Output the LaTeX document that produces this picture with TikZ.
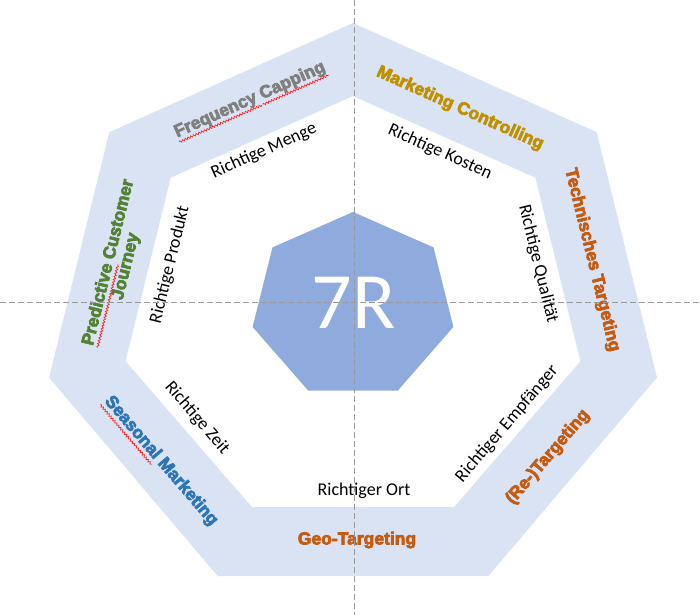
\documentclass[tikz,border=0pt]{standalone}
\usepackage{fontspec}
\usetikzlibrary{decorations.pathmorphing}
\setmainfont{Carlito}
\newfontfamily\heavy[FakeBold=4]{Liberation Sans}
\definecolor{bandblue}{HTML}{DAE3F3}
\definecolor{coreblue}{HTML}{8FAADC}
\definecolor{fcgray}{HTML}{7F7F7F}
\definecolor{mcgold}{HTML}{BF9000}
\definecolor{orng}{HTML}{C55A11}
\definecolor{sblue}{HTML}{2E75B6}
\definecolor{pgreen}{HTML}{548235}
\definecolor{guidegray}{HTML}{9A9A9A}
\definecolor{wavered}{HTML}{FF2020}
\tikzset{
  band/.style={fill=bandblue},
  core/.style={fill=coreblue},
  inlab/.style={font=\fontsize{18}{20}\selectfont, text=black, inner sep=0pt},
  outlab/.style={font=\heavy\bfseries\fontsize{17.5}{20}\selectfont, inner sep=0pt},
  ghost/.style={outlab, text depth=4pt, inner sep=0.8pt},
  wave/.style={draw=wavered, line width=0.7pt, decorate,
    decoration={snake, amplitude=1pt, segment length=3pt}},
  guide/.style={draw=guidegray, line width=0.9pt, dash pattern=on 6pt off 3pt},
}
\begin{document}
\begin{tikzpicture}[x=1pt,y=-1pt]
\useasboundingbox (0,0) rectangle (700,615);
\fill[white] (0,0) rectangle (700,615);
% outer ring vertices
\coordinate (o0) at (353,23);
\coordinate (o1) at (596.7,132.2);
\coordinate (o2) at (656.9,377.5);
\coordinate (o3) at (488.3,576);
\coordinate (o4) at (217.7,576);
\coordinate (o5) at (49.1,377.5);
\coordinate (o6) at (109.3,132.2);
% inner ring vertices
\coordinate (i0) at (353,96);
\coordinate (i1) at (535.4,177.7);
\coordinate (i2) at (580.4,361.3);
\coordinate (i3) at (454.2,507);
\coordinate (i4) at (251.8,507);
\coordinate (i5) at (125.6,361.3);
\coordinate (i6) at (170.6,177.7);
\fill[band, even odd rule] (o0)--(o1)--(o2)--(o3)--(o4)--(o5)--(o6)--cycle
  (i0)--(i1)--(i2)--(i3)--(i4)--(i5)--(i6)--cycle;
% core heptagon
\coordinate (c0) at (353,212);
\coordinate (c1) at (433.5,247.4);
\coordinate (c2) at (453.4,326.9);
\coordinate (c3) at (397.7,390.7);
\coordinate (c4) at (308.3,390.7);
\coordinate (c5) at (252.6,326.9);
\coordinate (c6) at (272.5,247.4);
\fill[core] (c0)--(c1)--(c2)--(c3)--(c4)--(c5)--(c6)--cycle;
\node[font=\fontsize{80}{80}\selectfont, text=white, inner sep=0pt, anchor=base] (sevenr) at (353.5,328.3) {7R};
% outer labels
\node[outlab, text=fcgray, rotate=24.1] (fc) at (250,100) {Frequency Capping};
\node[ghost, rotate=24.1, anchor=base west] (fcw1) at (fc.base west) {\phantom{Frequency}};
\node[ghost, rotate=24.1, anchor=base east] (fcw2) at (fc.base east) {\phantom{Capping}};
\draw[wave] (fcw1.south west) -- (fcw1.south east);
\draw[wave] (fcw2.south west) -- (fcw2.south east);
\node[outlab, text=mcgold, rotate=-24.1] (mc) at (460,108.5) {Marketing Controlling};
\node[outlab, text=orng, rotate=-76.2] (tt) at (592,260) {Technisches Targeting};
\node[outlab, text=orng, rotate=49.4] (rt) at (548,457) {(Re-)Targeting};
\node[outlab, text=orng] (gt) at (357,540) {Geo-Targeting};
\node[outlab, text=sblue, rotate=-49.4] (sm) at (161,461) {Seasonal Marketing};
\node[ghost, rotate=-49.4, anchor=base west] (smw) at (sm.base west) {\phantom{Seasonal}};
\draw[wave] (smw.south west) -- (smw.south east);
\node[outlab, text=pgreen, rotate=76.2] (pc1) at (107,262) {Predictive Customer};
\node[outlab, text=pgreen, rotate=76.2] (pc2) at (126.5,266.5) {Journey};
\node[ghost, rotate=76.2, anchor=base west] (pcw) at (pc1.base west) {\phantom{Predictive}};
\draw[wave] (pcw.south west) -- (pcw.south east);
% inner labels
\node[inlab, rotate=24.1] (rm) at (264,151) {Richtige Menge};
\node[inlab, rotate=-24.1] (rk) at (440,152) {Richtige Kosten};
\node[inlab, rotate=-76.2] (rq) at (538,264) {Richtige Qualität};
\node[inlab, rotate=49.4] (re) at (507,424) {Richtiger Empfänger};
\node[inlab] (ro) at (364,491) {Richtiger Ort};
\node[inlab, rotate=-49.4] (rz) at (197,418) {Richtige Zeit};
\node[inlab, rotate=76.2] (rp) at (170,265) {Richtige Produkt};
% guide lines
\coordinate (vt) at (354.5,0);
\coordinate (vb) at (354.5,615);
\coordinate (hl) at (0,302);
\coordinate (hr) at (700,302);
\draw[guide] (vt) -- (vb);
\draw[guide] (hl) -- (hr);
\end{tikzpicture}
\end{document}
